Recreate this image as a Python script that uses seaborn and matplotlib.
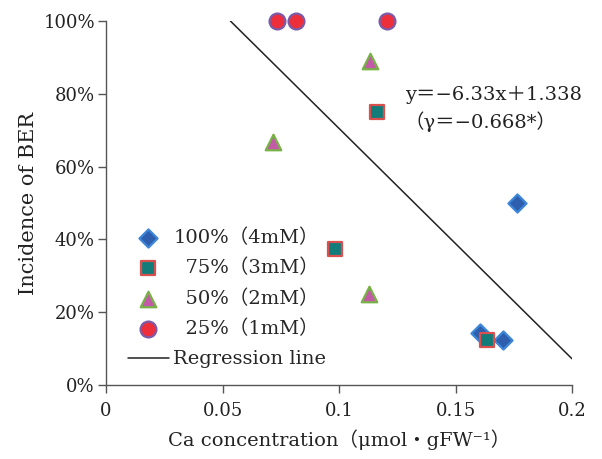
import numpy as np
import pandas as pd
import matplotlib
matplotlib.use("Agg")
import matplotlib.pyplot as plt
import seaborn as sns
from matplotlib.ticker import PercentFormatter

# Data
ca_100 = [0.1762, 0.1605, 0.1705]
ber_100 = [0.50, 0.143, 0.125]
ca_75 = [0.1162, 0.0981, 0.1634]
ber_75 = [0.75, 0.375, 0.125]
ca_50 = [0.1133, 0.0715, 0.1127]
ber_50 = [0.889, 0.667, 0.25]
ca_25 = [0.0735, 0.0815, 0.1207]
ber_25 = [1.0, 1.0, 1.0]

slope, intercept = -6.33, 1.338

labels = ["100%（4mM）", "  75%（3mM）", "  50%（2mM）", "  25%（1mM）"]

sns.set_theme(style="white")
plt.rcParams["font.family"] = ["DejaVu Serif", "Noto Sans CJK JP"]

df = pd.concat([
    pd.DataFrame({"ca": ca_100, "ber": ber_100, "group": labels[0]}),
    pd.DataFrame({"ca": ca_75, "ber": ber_75, "group": labels[1]}),
    pd.DataFrame({"ca": ca_50, "ber": ber_50, "group": labels[2]}),
    pd.DataFrame({"ca": ca_25, "ber": ber_25, "group": labels[3]}),
])

styles = {
    labels[0]: dict(marker="D", color="#2d5fae", edgecolor="#3d86d8", s=85),
    labels[1]: dict(marker="s", color="#127c7a", edgecolor="#d9504e", s=110),
    labels[2]: dict(marker="^", color="#c25aa8", edgecolor="#78b247", s=125),
    labels[3]: dict(marker="o", color="#ec2f3a", edgecolor="#7b5aa8", s=130),
}

fig = plt.figure(figsize=(6.02, 4.59), dpi=100)
ax = fig.add_axes([0.1761, 0.1612, 0.7741, 0.793])

for g in labels:
    st = styles[g]
    sns.scatterplot(data=df[df["group"] == g], x="ca", y="ber", ax=ax,
                    marker=st["marker"], color=st["color"], edgecolor=st["edgecolor"],
                    linewidth=1.6, s=st["s"], label=g, clip_on=False, zorder=3)

# Regression line y = -6.33x + 1.338 over the plotted range
x_line = np.array([(1 - intercept) / slope, 0.2])
ax.plot(x_line, slope * x_line + intercept, color="#222222", lw=1.1, label="Regression line")

ax.text(0.1283, 0.797, "y＝−6.33x＋1.338", fontsize=14, va="center", ha="left", color="#222222")
ax.text(0.1283, 0.723, "（γ＝−0.668*）", fontsize=14, va="center", ha="left", color="#222222")

ax.set_xlim(0, 0.2)
ax.set_ylim(0, 1.0)
ax.set_xticks([0, 0.05, 0.1, 0.15, 0.2])
ax.set_xticklabels(["0", "0.05", "0.1", "0.15", "0.2"])
ax.set_yticks(np.arange(0, 1.01, 0.2))
ax.yaxis.set_major_formatter(PercentFormatter(1.0, decimals=0))

ax.set_xlabel("Ca concentration（μmol・gFW⁻¹）", fontsize=14, color="#222222", labelpad=7)
ax.set_ylabel("Incidence of BER", fontsize=15, color="#222222", labelpad=4)

for side in ["top", "right"]:
    ax.spines[side].set_visible(False)
for side in ["left", "bottom"]:
    ax.spines[side].set_color("#555555")
    ax.spines[side].set_linewidth(1.0)
ax.tick_params(axis="both", direction="out", length=6, width=1, color="#555555",
               labelsize=13, labelcolor="#222222", bottom=True, left=True)
ax.tick_params(axis="x", pad=6)
ax.tick_params(axis="y", pad=2)

ax.legend(loc="upper left", bbox_to_anchor=(0.03, 0.452), frameon=False, fontsize=14,
          handlelength=2.1, handletextpad=0.25, labelspacing=0.62, borderaxespad=0.0)

fig.savefig("out.png", dpi=100)
